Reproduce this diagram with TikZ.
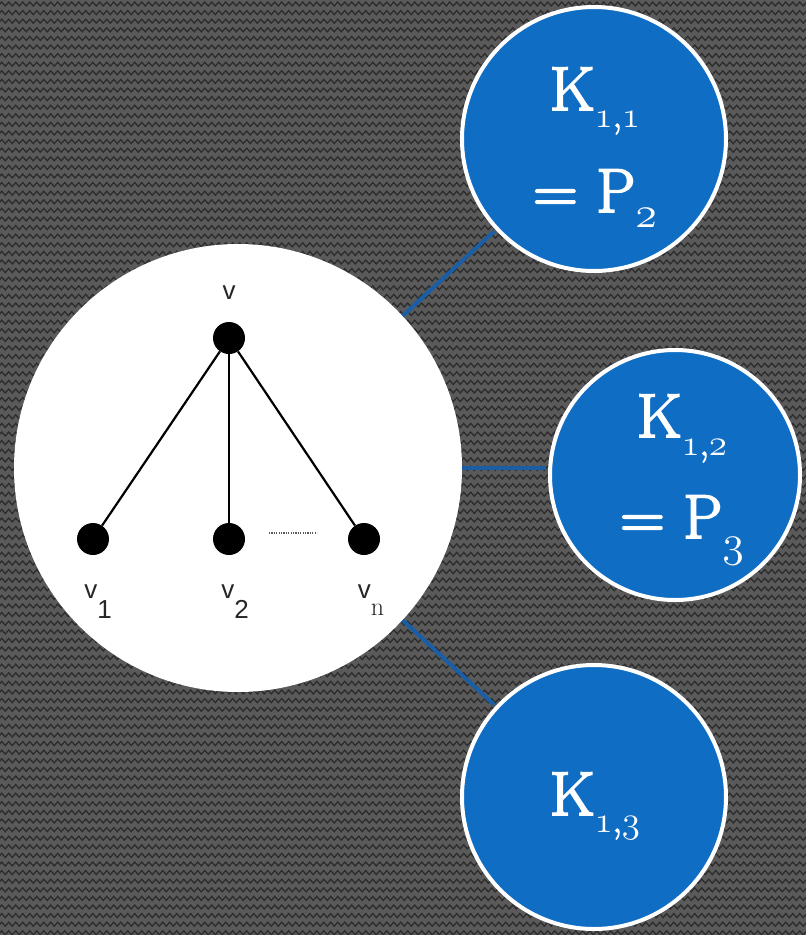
\documentclass[tikz,border=0pt]{standalone}
\usepackage{fontspec}
\newfontfamily\lsans{Liberation Sans}
\newfontfamily\kfont[FakeBold=3]{Latin Modern Roman}
\usetikzlibrary{decorations.pathmorphing}
\DeclareFontFamily{OML}{oldcmm}{\skewchar\font127}
\DeclareFontShape{OML}{oldcmm}{m}{it}{<-> cmmi12}{}
\definecolor{bgdark}{HTML}{5A5A5A}
\definecolor{zzcol}{HTML}{2C2C2C}
\definecolor{kblue}{HTML}{106DC4}
\definecolor{lineblue}{HTML}{1A5EA6}
\newcommand\osf[1]{{\usefont{OML}{oldcmm}{m}{it}#1}}
\newcommand\lowsub[3]{\raisebox{#1}{\fontsize{#2}{#2}\selectfont #3}}
\begin{document}
\begin{tikzpicture}[x=1pt,y=-1pt,
 zigrow/.style={draw=zzcol, line width=1.3pt, decorate, decoration={zigzag, segment length=7pt, amplitude=2pt}},
 bigc/.style={circle, fill=white, minimum size=448pt, inner sep=0pt},
 bluec/.style={circle, fill=kblue, draw=white, line width=4pt, inner sep=0pt},
 conn/.style={draw=lineblue, line width=4pt, shorten >=2pt},
 vert/.style={circle, fill=black, minimum size=32pt, inner sep=0pt},
 gedge/.style={draw=black, line width=2.2pt},
 dotline/.style={draw=black!65, line width=1.8pt, dash pattern=on 1.2pt off 1.2pt},
 ktext/.style={text=white, inner sep=0pt, anchor=base, font=\kfont\fontsize{62}{62}\selectfont},
 vlab/.style={text=black!85, inner sep=0pt, anchor=base, font=\lsans\fontsize{26}{26}\selectfont},
]
\useasboundingbox (0,0) rectangle (806,935);
\clip (0,0) rectangle (806,935);
\fill[bgdark] (0,0) rectangle (806,935);
\foreach \r in {0,...,109}{
  \draw[zigrow] (-7,{\r*8.6+4}) -- (813,{\r*8.6+4});
}
% circles
\node[bigc] (big) at (238,468) {};
\node[bluec, minimum size=264pt] (b1) at (594,139) {};
\node[bluec, minimum size=250pt] (b2) at (675,475) {};
\node[bluec, minimum size=264pt] (b3) at (594,797) {};
% connectors
\draw[conn] (big) -- (b1);
\draw[conn] (big.east) -- (big.east -| b2.west);
\draw[conn] (big) -- (b3);
% blue circle texts
\node[ktext] (t11) at (595,110) {K\lowsub{-17pt}{37}{\osf{1},\osf{1}}};
\node[ktext] (t12) at (595,212) {= P\lowsub{-15pt}{44}{\osf{2}}};
\node[ktext] (t21) at (682,437) {K\lowsub{-18pt}{37}{\osf{1},\osf{2}}};
\node[ktext] (t22) at (682,538) {= P\lowsub{-18pt}{44}{\osf{3}}};
\node[ktext] (t31) at (595,815) {K\lowsub{-17pt}{37}{\osf{1},\osf{3}}};
% star graph
\node[vert] (vt) at (229,338) {};
\node[vert] (v1) at (93,539) {};
\node[vert] (v2) at (229,539) {};
\node[vert] (vn) at (364,539) {};
\draw[gedge] (vt) -- (v1);
\draw[gedge] (vt) -- (v2);
\draw[gedge] (vt) -- (vn);
\coordinate (d1) at (269,533);
\coordinate (d2) at (317,533);
\draw[dotline] (d1) -- (d2);
\node[vlab] (lv) at (229,299) {v};
\node[vlab] (l1) at (98,598) {v\raisebox{-20pt}{1}};
\node[vlab] (l2) at (235,598) {v\raisebox{-20pt}{2}};
\node[vlab] (ln) at (371,598) {v\raisebox{-17pt}{\rmfamily\fontsize{26}{26}\selectfont n}};
\end{tikzpicture}
\end{document}
